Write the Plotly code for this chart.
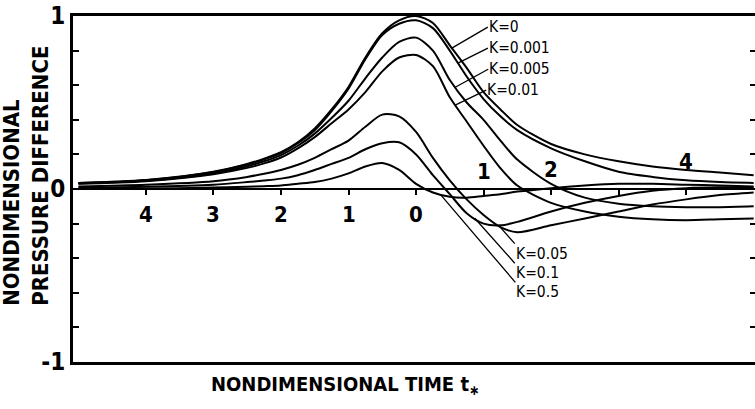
import numpy as np
import plotly.graph_objects as go

# ---------------- data ----------------
t = [-5, -4, -3, -2.5, -2.25, -2, -1.75, -1.5, -1.25, -1, -0.75, -0.5, -0.25, 0, 0.25, 0.5, 0.75,
     1, 1.25, 1.5, 2, 2.5, 3, 3.5, 4, 4.5, 5]

k_names = ["K=0", "K=0.001", "K=0.005", "K=0.01", "K=0.05", "K=0.1", "K=0.5"]

p_k0 = [0.035, 0.052, 0.10, 0.145, 0.175, 0.213, 0.27, 0.35, 0.46, 0.59, 0.76, 0.90, 0.975, 1.0,
        0.96, 0.83, 0.70, 0.56, 0.46, 0.37, 0.26, 0.20, 0.16, 0.13, 0.11, 0.095, 0.08]
p_k0001 = [0.034, 0.05, 0.098, 0.142, 0.171, 0.208, 0.265, 0.34, 0.45, 0.58, 0.75, 0.89, 0.955,
           0.975, 0.93, 0.80, 0.65, 0.52, 0.42, 0.34, 0.235, 0.16, 0.10, 0.07, 0.05, 0.04, 0.035]
p_k0005 = [0.032, 0.047, 0.09, 0.132, 0.16, 0.196, 0.25, 0.32, 0.41, 0.51, 0.64, 0.76, 0.85,
           0.875, 0.80, 0.63, 0.50, 0.40, 0.28, 0.17, 0.03, -0.05, -0.085, -0.10, -0.105,
           -0.105, -0.10]
p_k001 = [0.03, 0.045, 0.085, 0.122, 0.148, 0.182, 0.235, 0.30, 0.38, 0.46, 0.56, 0.68, 0.76,
          0.775, 0.71, 0.53, 0.39, 0.25, 0.12, 0.02, -0.08, -0.13, -0.16, -0.175, -0.18,
          -0.175, -0.17]
p_k005 = [0.015, 0.025, 0.045, 0.07, 0.088, 0.11, 0.14, 0.18, 0.23, 0.28, 0.36, 0.43, 0.42,
          0.33, 0.18, 0.05, -0.06, -0.15, -0.22, -0.25, -0.21, -0.17, -0.13, -0.09, -0.06,
          -0.035, -0.02]
p_k01 = [0.008, 0.013, 0.025, 0.04, 0.049, 0.06, 0.08, 0.11, 0.145, 0.18, 0.23, 0.265, 0.27,
         0.20, 0.08, -0.03, -0.14, -0.20, -0.21, -0.19, -0.13, -0.08, -0.04, -0.01, 0.005,
         0.01, 0.01]
p_k05 = [0.0, 0.003, 0.008, 0.013, 0.016, 0.02, 0.03, 0.04, 0.06, 0.09, 0.13, 0.15, 0.11, 0.03,
         -0.02, -0.045, -0.05, -0.04, -0.03, -0.015, 0.005, 0.02, 0.03, 0.03, 0.025, 0.02, 0.015]

series = [p_k0, p_k0001, p_k0005, p_k001, p_k005, p_k01, p_k05]

# tick labels on the zero line
neg_ticks = [-4, -3, -2, -1, 0]
neg_labels = ["4", "3", "2", "1", "0"]
pos_ticks = [1, 2, 4]
pos_labels = ["1", "2", "4"]
zero_ticks = [-4, -3, -2, -1, 0, 1, 2, 3, 4]

y_ticks = [-1, 0, 1]
y_labels = ["-1", "0", "1"]
y_minor_step = 0.2

# where the label leader lines touch the curves (time value)
label_t = [0.53, 0.62, 0.58, 0.58, 1.24, 0.87, 0.36]

FONT = "DejaVu Sans Condensed, Liberation Sans Narrow, DejaVu Sans, sans-serif"
XR = [-5.08, 5.02]

fig = go.Figure()
for name, ys in zip(k_names, series):
    fig.add_trace(go.Scatter(x=t, y=ys, mode="lines", name=name,
                             line=dict(color="black", width=2, shape="spline", smoothing=0.8),
                             showlegend=False, hoverinfo="skip"))

# invisible traces for the helper axes
fig.add_trace(go.Scatter(x=[XR[0]], y=[0], xaxis="x2", mode="markers",
                         marker=dict(opacity=0), showlegend=False, hoverinfo="skip"))
fig.add_trace(go.Scatter(x=[XR[0]], y=[0], yaxis="y2", mode="markers",
                         marker=dict(opacity=0), showlegend=False, hoverinfo="skip"))

annotations = []
# negative-side tick labels (below the zero line)
for v, s in zip(neg_ticks, neg_labels):
    annotations.append(dict(x=v, y=0, xref="x", yref="y", text="<b>%s</b>" % s, showarrow=False,
                            yshift=-25, font=dict(family=FONT, size=22, color="black")))
# positive-side labels (above)
pos_shift = [18, 20, 28]
for v, s, sh in zip(pos_ticks, pos_labels, pos_shift):
    annotations.append(dict(x=v, y=0, xref="x", yref="y", text="<b>%s</b>" % s, showarrow=False,
                            yshift=sh, font=dict(family=FONT, size=22, color="black")))

# curve labels with leader lines
offsets = [(36, -21, "middle"), (30, -15, "middle"), (33, -18, "middle"), (31, -15, "middle"),
           (15, 17, "top"), (40, 45, "top"), (75, 88, "top")]
for name, ys, lt, (ax, ay, ya) in zip(k_names, series, label_t, offsets):
    yv = float(np.interp(lt, t, ys))
    annotations.append(dict(x=lt, y=yv, xref="x", yref="y", text=name, showarrow=True,
                            arrowhead=0, arrowwidth=1.3, arrowcolor="black",
                            ax=ax, ay=ay, xanchor="left", yanchor=ya, borderpad=0,
                            font=dict(family=FONT, size=15.5, color="black")))

# axis titles
annotations.append(dict(x=-0.069, y=0.538, xref="paper", yref="paper",
                        text="<b>NONDIMENSIONAL<br>PRESSURE DIFFERENCE</b>", textangle=-90,
                        align="left", showarrow=False, xanchor="center", yanchor="middle",
                        font=dict(family=FONT, size=22, color="black")))
annotations.append(dict(x=0.399, y=-0.066, xref="paper", yref="paper",
                        text="<b>NONDIMENSIONAL TIME t</b><sub><b>\u2217</b></sub>",
                        showarrow=False, xanchor="center", yanchor="middle",
                        font=dict(family=FONT, size=20, color="black")))

fig.update_layout(
    width=755, height=409,
    margin=dict(l=73, r=0, t=16, b=47),
    paper_bgcolor="white", plot_bgcolor="white",
    xaxis=dict(range=XR, showgrid=False, zeroline=False, showline=True, linewidth=3,
               linecolor="black", mirror=True, ticks="", showticklabels=False),
    xaxis2=dict(range=XR, overlaying="x", anchor="free", position=0.5, showgrid=False,
                zeroline=False, showline=True, linewidth=1.5, linecolor="black",
                ticks="outside", ticklen=5, tickwidth=1.5, tickcolor="black",
                tickvals=zero_ticks, showticklabels=False),
    yaxis=dict(range=[-1, 1], showgrid=False, zeroline=False, showline=True, linewidth=3,
               linecolor="black", ticks="inside", ticklen=6, tickwidth=2, tickcolor="black",
               tickvals=y_ticks, ticktext=["<b>%s</b>" % s for s in y_labels],
               tickfont=dict(family=FONT, size=24, color="black"),
               minor=dict(dtick=y_minor_step, tick0=0, ticks="inside", ticklen=6,
                          tickwidth=2, tickcolor="black", showgrid=False)),
    yaxis2=dict(range=[-1, 1], overlaying="y", side="right", showgrid=False, zeroline=False,
                showline=False, ticks="inside", ticklen=5, tickwidth=2, tickcolor="black",
                dtick=y_minor_step, tick0=0, showticklabels=False),
    annotations=annotations,
)

fig.write_html("out.html")
